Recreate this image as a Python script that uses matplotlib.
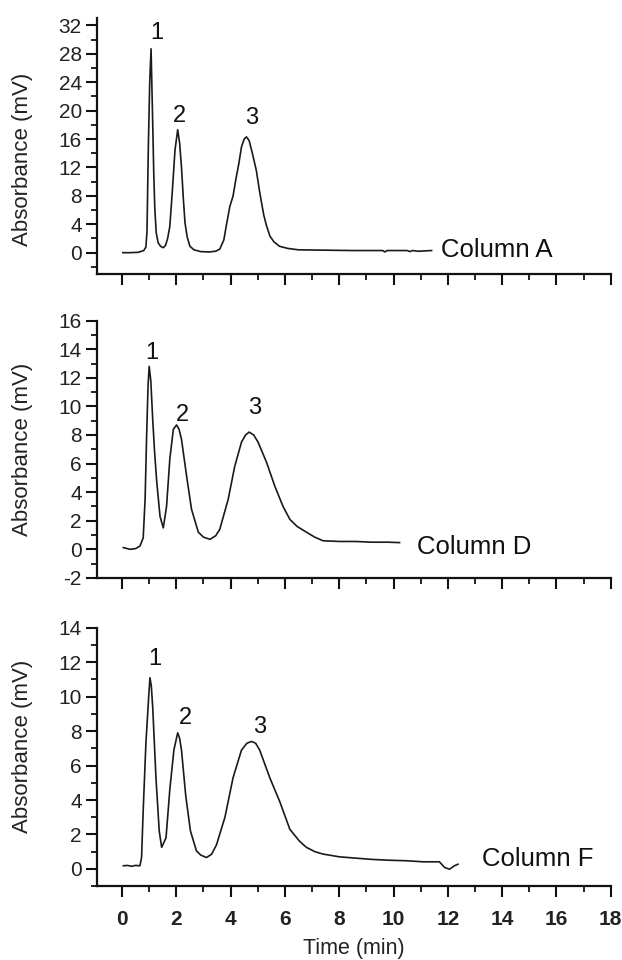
import numpy as np
import matplotlib
matplotlib.use('Agg')
import matplotlib.pyplot as plt
from matplotlib.ticker import MultipleLocator

plt.rcParams['font.family'] = ['Liberation Sans', 'DejaVu Sans']
plt.rcParams['axes.unicode_minus'] = False

# column A trace (time in min, absorbance in mV)
t_A = [0.03, 0.3, 0.6, 0.8, 0.88, 0.92, 0.97, 1.02, 1.07, 1.12, 1.17, 1.21, 1.26, 1.33, 1.42, 1.52,
       1.6, 1.68, 1.76, 1.85, 1.95, 2.05, 2.12, 2.19, 2.26, 2.32, 2.4, 2.5, 2.65, 2.9, 3.2, 3.45,
       3.6, 3.75, 3.85, 3.97, 4.09, 4.2, 4.3, 4.4, 4.5, 4.58, 4.68, 4.8, 4.95, 5.05, 5.13, 5.22,
       5.32, 5.45, 5.6, 5.8, 6.1, 6.5, 7.5, 8.5, 9.6, 9.68, 9.76, 10.5, 10.6, 10.7, 10.9, 11.4]
abs_A = [0.0, 0.0, 0.05, 0.3, 0.8, 3.0, 15.0, 24.0, 28.7, 20.0, 11.0, 6.0, 2.8, 1.4, 0.9, 0.7,
         1.0, 2.0, 3.7, 8.5, 14.4, 17.3, 15.5, 12.0, 7.5, 4.2, 2.2, 0.9, 0.4, 0.15, 0.1, 0.2,
         0.5, 1.8, 4.0, 6.5, 8.0, 10.5, 12.5, 14.9, 16.0, 16.3, 15.8, 14.0, 11.5, 9.0, 7.2, 5.3,
         3.8, 2.3, 1.5, 0.9, 0.6, 0.4, 0.35, 0.3, 0.3, 0.1, 0.3, 0.3, 0.15, 0.3, 0.2, 0.3]

# column D trace
t_D = [0.05, 0.3, 0.5, 0.66, 0.78, 0.85, 0.91, 0.96, 1.0, 1.06, 1.13, 1.2, 1.28, 1.4, 1.52, 1.64,
       1.76, 1.89, 2.01, 2.1, 2.19, 2.38, 2.56, 2.81, 3.0, 3.24, 3.45, 3.6, 3.91, 4.15, 4.4, 4.55,
       4.68, 4.85, 5.01, 5.32, 5.63, 5.93, 6.18, 6.45, 6.79, 7.1, 7.4, 8.0, 8.6, 9.2, 9.8, 10.22]
abs_D = [0.12, 0.0, 0.05, 0.23, 0.8, 3.5, 8.2, 11.5, 12.8, 11.8, 9.1, 6.8, 4.7, 2.3, 1.5, 3.0,
         6.3, 8.4, 8.7, 8.4, 7.7, 5.1, 2.8, 1.2, 0.85, 0.7, 0.95, 1.4, 3.5, 5.8, 7.5, 8.0,
         8.2, 8.0, 7.5, 6.1, 4.4, 3.0, 2.1, 1.6, 1.2, 0.85, 0.6, 0.55, 0.55, 0.5, 0.5, 0.47]

# column F trace
t_F = [0.05, 0.2, 0.35, 0.5, 0.66, 0.72, 0.78, 0.88, 0.99, 1.03, 1.08, 1.13, 1.25, 1.37, 1.46, 1.62,
       1.76, 1.91, 2.05, 2.12, 2.19, 2.35, 2.52, 2.74, 2.9, 3.11, 3.3, 3.48, 3.79, 4.09, 4.4, 4.6,
       4.77, 4.92, 5.07, 5.44, 5.81, 6.18, 6.54, 6.79, 7.1, 7.4, 8.0, 8.63, 9.2, 9.85, 10.5, 11.08,
       11.69, 11.88, 12.06, 12.24, 12.37]
abs_F = [0.18, 0.2, 0.15, 0.2, 0.18, 0.66, 3.4, 7.3, 10.2, 11.1, 10.6, 9.4, 5.3, 2.2, 1.25, 1.8,
         4.6, 6.9, 7.9, 7.6, 6.9, 4.2, 2.2, 1.05, 0.8, 0.66, 0.85, 1.4, 3.0, 5.3, 6.9, 7.3,
         7.4, 7.3, 6.9, 5.3, 3.9, 2.3, 1.6, 1.25, 1.0, 0.86, 0.7, 0.62, 0.55, 0.5, 0.47, 0.41,
         0.41, 0.08, -0.02, 0.18, 0.27]

# peak number labels (x, y) per panel
peak_names = ['1', '2', '3']
peaks_A = [(1.29, 30.9), (2.13, 19.3), (4.78, 19.0)]
peaks_D = [(1.09, 13.75), (2.23, 9.4), (4.89, 9.9)]
peaks_F = [(1.21, 12.2), (2.32, 8.75), (5.07, 8.26)]

col_names = ['Column A', 'Column D', 'Column F']
col_pos = [(11.76, 0.4), (10.85, 0.14), (13.27, 0.58)]

ylims = [(-3, 33), (-2, 16), (-1, 14)]
ymajor = [4, 2, 2]
yminor = [2, 1, 1]
ylabel_y = [0.45, 0.5, 0.54]

fig = plt.figure(figsize=(6.22, 9.6), dpi=100)
boxes = [(0.156, 0.7146, 0.826, 0.2664),
         (0.156, 0.398, 0.826, 0.268),
         (0.156, 0.077, 0.826, 0.269)]

traces = [(t_A, abs_A), (t_D, abs_D), (t_F, abs_F)]
peaks = [peaks_A, peaks_D, peaks_F]

for i in range(3):
    ax = fig.add_axes(boxes[i])
    t, a = traces[i]
    ax.plot(t, a, color='#1a1a1a', lw=1.2)
    for name, (px, py) in zip(peak_names, peaks[i]):
        ax.text(px, py, name, fontsize=17, ha='center', va='center', color='#111')
    ax.text(col_pos[i][0], col_pos[i][1], col_names[i], fontsize=18.5,
            ha='left', va='center', color='#111')

    ax.set_xlim(-0.92, 18)
    ax.set_ylim(*ylims[i])
    ax.xaxis.set_major_locator(MultipleLocator(2))
    ax.xaxis.set_minor_locator(MultipleLocator(1))
    ax.yaxis.set_major_locator(MultipleLocator(ymajor[i]))
    ax.yaxis.set_minor_locator(MultipleLocator(yminor[i]))
    ax.spines['top'].set_visible(False)
    ax.spines['right'].set_visible(False)
    for s in ['left', 'bottom']:
        ax.spines[s].set_linewidth(1.6)
        ax.spines[s].set_color('#111')
    ax.tick_params(which='major', direction='out', length=8, width=1.5,
                   color='#111', labelsize=15, labelcolor='#222')
    ax.tick_params(which='minor', direction='out', length=4.5, width=1.3, color='#111')
    ax.tick_params(axis='y', pad=3)
    ax.tick_params(axis='x', pad=9)
    ax.set_ylabel('Absorbance (mV)', fontsize=16, color='#222')
    ax.yaxis.set_label_coords(-0.125, ylabel_y[i])
    if i < 2:
        ax.tick_params(axis='x', labelbottom=False)
    else:
        for lab in ax.get_xticklabels():
            lab.set_fontweight('bold')
        ax.set_xlabel('Time (min)', fontsize=15.5, color='#222', labelpad=7)

fig.savefig('out.png', dpi=100)
